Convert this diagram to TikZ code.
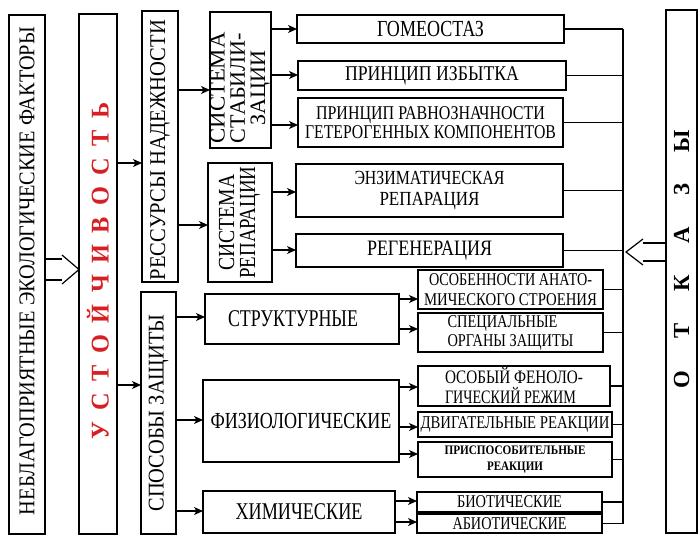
\documentclass[tikz,border=0pt]{standalone}
\usepackage{fontspec}
\setmainfont{Liberation Serif}
\usepackage{graphicx}
\usetikzlibrary{arrows.meta}
\definecolor{ustred}{RGB}{214,32,36}
\newcommand\fitw[3]{\resizebox{#1pt}{\height}{\fontsize{#2pt}{#2pt}\selectfont #3}}
\begin{document}
\begin{tikzpicture}[x=1pt,y=-1pt,
  box/.style={draw, line width=1.2pt, inner sep=0pt, outer sep=0pt},
  arr/.style={line width=1.2pt, -{Stealth[length=9pt,width=8pt,inset=2.5pt]}},
  ln/.style={line width=1.2pt}]
\fill[white] (0,0) rectangle (700,535);
\useasboundingbox (0,0) rectangle (700,535);

% left column
\node[box, minimum width=36pt, minimum height=519pt] (neb) at (27,274.5)
  {\rotatebox{90}{\kern7pt\fitw{488}{22.5}{НЕБЛАГОПРИЯТНЫЕ ЭКОЛОГИЧЕСКИЕ ФАКТОРЫ}}};
\node[box, minimum width=38pt, minimum height=520pt] (ust) at (98,274)
  {\rotatebox{90}{\kern6pt\color{ustred}\fitw{337}{25.5}{\bfseries У\kern12ptС\kern12ptТ\kern12ptО\kern12ptЙ\kern12ptЧ\kern12ptИ\kern12ptВ\kern12ptО\kern12ptС\kern12ptТ\kern12ptЬ}}};
\node[box, minimum width=36pt, minimum height=271pt] (res) at (160,146.5)
  {\rotatebox{90}{\fitw{260}{22.5}{РЕССУРСЫ НАДЕЖНОСТИ}\kern7pt}};
\node[box, minimum width=35pt, minimum height=242pt] (spo) at (158.5,413)
  {\rotatebox{90}{\fitw{197}{22.5}{СПОСОБЫ ЗАЩИТЫ}}};

% systems
\node[box, minimum width=61pt, minimum height=136pt] (stab) at (240.5,80)
  {\rotatebox{90}{\fontsize{22pt}{19pt}\selectfont\begin{tabular}{@{}c@{}}\fitw{111}{22}{СИСТЕМА}\\\fitw{110}{22}{СТАБИЛИ-}\\\fitw{75}{22}{ЗАЦИИ}\end{tabular}\kern16pt}};
\node[box, minimum width=64pt, minimum height=119pt] (rep) at (240,222.5)
  {\rotatebox{90}{\fontsize{23pt}{20pt}\selectfont\begin{tabular}{@{}c@{}}\fitw{96}{23}{СИСТЕМА}\\\fitw{112}{23}{РЕПАРАЦИИ}\end{tabular}}};

% reliability resources
\node[box, minimum width=267pt, minimum height=28pt] (gom) at (430.5,29)
  {\fitw{107}{23}{ГОМЕОСТАЗ}};
\node[box, minimum width=268pt, minimum height=29pt] (izb) at (432,75.5)
  {\fitw{174}{21}{ПРИНЦИП ИЗБЫТКА}};
\node[box, minimum width=265pt, minimum height=49pt, align=center, font=\fontsize{19.5pt}{19pt}\selectfont] (ravn) at (430.5,122.5)
  {\fitw{229}{19.5}{ПРИНЦИП РАВНОЗНАЧНОСТИ}\\\fitw{251}{19.5}{ГЕТЕРОГЕННЫХ КОМПОНЕНТОВ}};
\node[box, minimum width=267pt, minimum height=53pt, align=center, font=\fontsize{20pt}{21pt}\selectfont] (enz) at (429.5,190.5)
  {\fitw{150}{20}{ЭНЗИМАТИЧЕСКАЯ}\\\fitw{100}{20}{РЕПАРАЦИЯ}};
\node[box, minimum width=267pt, minimum height=33pt] (reg) at (429.5,250.5)
  {\fitw{125}{22}{РЕГЕНЕРАЦИЯ}};

% protection
\node[box, minimum width=194pt, minimum height=50pt] (str) at (302,319)
  {\fitw{130}{24}{СТРУКТУРНЫЕ}\kern18pt};
\node[box, minimum width=196pt, minimum height=82pt] (fiz) at (301,421)
  {\fitw{181}{23}{ФИЗИОЛОГИЧЕСКИЕ}};
\node[box, minimum width=192pt, minimum height=42pt] (him) at (299,512)
  {\fitw{127}{24}{ХИМИЧЕСКИЕ}};

\node[box, minimum width=185pt, minimum height=39pt, align=center, font=\fontsize{18pt}{20pt}\selectfont] (anat) at (510.5,289.5)
  {\fitw{163}{18}{ОСОБЕННОСТИ АНАТО-}\\\fitw{173}{18}{МИЧЕСКОГО СТРОЕНИЯ}};
\node[box, minimum width=185pt, minimum height=39pt, align=left, font=\fontsize{18pt}{19pt}\selectfont] (spec) at (510.5,332.5)
  {\fitw{110}{18}{СПЕЦИАЛЬНЫЕ}\\\fitw{126}{18}{ОРГАНЫ ЗАЩИТЫ}};
\node[box, minimum width=192pt, minimum height=40pt, align=left, font=\fontsize{19pt}{20pt}\selectfont] (fen) at (514,386)
  {\fitw{138}{19}{ОСОБЫЙ ФЕНОЛО-}\\\fitw{131}{19}{ГИЧЕСКИЙ РЕЖИМ}};
\node[box, minimum width=194pt, minimum height=25pt] (dvig) at (515,424.5)
  {\fitw{189}{18}{ДВИГАТЕЛЬНЫЕ РЕАКЦИИ}};
\node[box, minimum width=194pt, minimum height=35pt, align=center, font=\fontsize{13pt}{16pt}\selectfont] (pris) at (515,459.5)
  {\fitw{141}{13}{\bfseries ПРИСПОСОБИТЕЛЬНЫЕ}\\\fitw{56}{13}{\bfseries РЕАКЦИИ}};
\node[box, minimum width=185pt, minimum height=20pt] (biot) at (509.5,502)
  {\fitw{105}{18}{БИОТИЧЕСКИЕ}};
\node[box, minimum width=185pt, minimum height=19pt] (abiot) at (509.5,523.5)
  {\fitw{114}{18}{АБИОТИЧЕСКИЕ}};

% failures
\node[box, minimum width=31pt, minimum height=523pt] (otk) at (681.5,271.5)
  {\rotatebox{90}{\kern25pt\fitw{258}{23}{\bfseries О\kern32ptТ\kern32ptК\kern32ptА\kern32ptЗ\kern32ptЫ}}};

% arrows
\draw[arr] (ust.east |- 0,163) -- (res.west |- 0,163);
\draw[arr] (ust.east |- 0,385) -- (spo.west |- 0,385);
\draw[arr] (res.east |- 0,90) -- (stab.west |- 0,90);
\draw[arr] (res.east |- 0,225) -- (rep.west |- 0,225);
\draw[arr] (stab.east |- 0,29) -- (gom.west |- 0,29);
\draw[arr] (stab.east |- 0,75) -- (izb.west |- 0,75);
\draw[arr] (stab.east |- 0,125) -- (ravn.west |- 0,125);
\draw[arr] (rep.east |- 0,192) -- (enz.west |- 0,192);
\draw[arr] (rep.east |- 0,250) -- (reg.west |- 0,250);
\draw[arr] (spo.east |- 0,317) -- (str.west |- 0,317);
\draw[arr] (spo.east |- 0,420) -- (fiz.west |- 0,420);
\draw[arr] (spo.east |- 0,511) -- (him.west |- 0,511);
\draw[arr] (str.east |- 0,299) -- (anat.west |- 0,299);
\draw[arr] (str.east |- 0,329) -- (spec.west |- 0,329);
\draw[arr] (fiz.east |- 0,387) -- (fen.west |- 0,387);
\draw[arr] (fiz.east |- 0,427) -- (dvig.west |- 0,427);
\draw[arr] (fiz.east |- 0,454) -- (pris.west |- 0,454);
\draw[arr] (him.east |- 0,501) -- (biot.west |- 0,501);
\draw[arr] (him.east |- 0,522) -- (abiot.west |- 0,522);

% collector
\coordinate (col) at (623,0);
\foreach \n in {gom,izb,ravn,enz,reg,anat,spec,fen,dvig,pris,biot,abiot}
  \draw[ln] (\n.east) -- (\n.east -| col);
\draw[ln] (gom.east -| col) -- (abiot.east -| col);

% hollow arrow: factors -> stability
\draw[ln] (neb.east |- 0,259) -- (62,259);
\draw[ln] (neb.east |- 0,280) -- (62,280);
\draw[ln] (62,255) -- (ust.west |- 0,269.5) -- (62,284);

% hollow arrow: failures -> collector
\draw[ln] (otk.west |- 0,243) -- (643,243);
\draw[ln] (otk.west |- 0,261) -- (643,261);
\draw[ln] (643,239) -- (626,252) -- (643,265);
\end{tikzpicture}
\end{document}
